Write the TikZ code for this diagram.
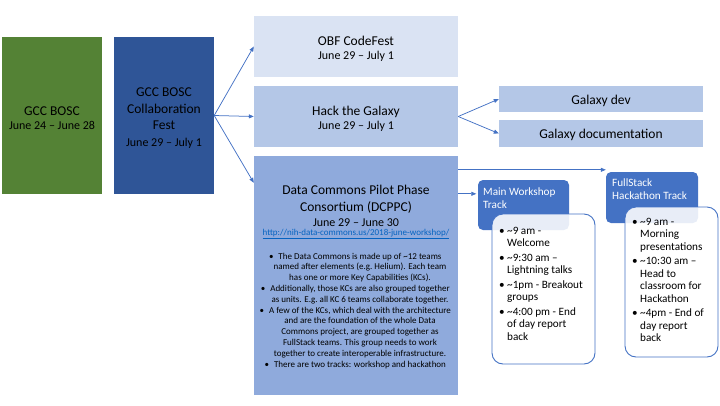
\documentclass[tikz,border=0pt]{standalone}
\usepackage{fontspec}
\setmainfont{Carlito}
\usetikzlibrary{arrows.meta,calc}
\definecolor{cgreen}{HTML}{548235}
\definecolor{cdark}{HTML}{2F5597}
\definecolor{cpale}{HTML}{DAE3F3}
\definecolor{clight}{HTML}{B4C7E7}
\definecolor{cmid}{HTML}{8FAADC}
\definecolor{cacc}{HTML}{4472C4}
\definecolor{clink}{HTML}{0563C1}
\newcommand{\bul}{\llap{\textbullet\hspace{2.5pt}}}
\newcommand{\dbul}{\llap{\textbullet\hspace{5pt}}}
\tikzset{
  box/.style={rectangle, inner sep=0pt, align=center, text=black},
  arr/.style={draw=cacc, line width=0.75pt, -{Triangle[length=5pt,width=4pt]}},
  hdr/.style={rectangle, rounded corners=5pt, fill=cacc, inner sep=0pt},
  body/.style={rectangle, rounded corners=11pt, draw=cacc, line width=0.9pt, fill=white, fill opacity=0.88, text opacity=1, inner sep=0pt},
  hdrtext/.style={anchor=north west, inner sep=0pt, align=left, text=white, font=\fontsize{11.2}{12.5}\selectfont},
  listtext/.style={anchor=north west, inner sep=0pt, align=left, text=black, font=\fontsize{11.2}{12.3}\selectfont},
}
\begin{document}
\begin{tikzpicture}[x=1pt,y=-1pt]
\useasboundingbox (0,0) rectangle (720,405);

% left boxes
\node[box, fill=cgreen, minimum width=100pt, minimum height=157pt] (gcc) at (52,115.5) {};
\node[box, font=\fontsize{13.5}{14}\selectfont] (gcctxt) at ($(gcc)+(0,2.5)$)
  {GCC BOSC\\{\fontsize{12}{14}\selectfont June 24 – June 28}};
\node[box, fill=cdark, minimum width=100pt, minimum height=157pt] (collab) at (164,115.5) {};
\node[box, font=\fontsize{13.5}{16.5}\selectfont] (collabtxt) at ($(collab)+(0,2.5)$)
  {GCC BOSC\\Collaboration\\Fest\\{\fontsize{12}{15}\selectfont June 29 – July 1}};

% middle column
\node[box, fill=cpale, minimum width=204pt, minimum height=61pt] (obf) at (356,46.5) {};
\node[box, font=\fontsize{13.5}{14.5}\selectfont] (obftxt) at ($(obf)+(0,2.5)$)
  {OBF CodeFest\\{\fontsize{12}{14.5}\selectfont June 29 – July 1}};
\node[box, fill=clight, minimum width=204pt, minimum height=61pt] (hack) at (356,116.5) {};
\node[box, font=\fontsize{13.5}{14.5}\selectfont] (hacktxt) at ($(hack)+(0,2.5)$)
  {Hack the Galaxy\\{\fontsize{12}{14.5}\selectfont June 29 – July 1}};
\node[box, fill=cmid, minimum width=204pt, minimum height=239pt] (dcppc) at (356,275.5) {};

\node[box, anchor=north, font=\fontsize{13.5}{17}\selectfont] (dtitle) at (356,182)
  {\strut Data Commons Pilot Phase\\Consortium (DCPPC)};
\node[box, font=\fontsize{12}{14}\selectfont] (ddate) at (356,223) {June 29 – June 30};
\node[box, font=\fontsize{9}{11}\selectfont, text=clink] (dlink) at (356,234)
  {\underline{http://nih-data-commons.us/2018-june-workshop/}};
\node[box, anchor=north, font=\fontsize{9}{10.8}\selectfont] (dlist) at (360,251.4)
  {\strut\dbul The Data Commons is made up of \textasciitilde12 teams\\
   named after elements (e.g.\ Helium). Each team\\
   has one or more Key Capabilities (KCs).\\
   \dbul Additionally, those KCs are also grouped together\\
   as units. E.g.\ all KC 6 teams collaborate together.\\
   \dbul A few of the KCs, which deal with the architecture\\
   and are the foundation of the whole Data\\
   Commons project, are grouped together as\\
   FullStack teams. This group needs to work\\
   together to create interoperable infrastructure.\\
   \dbul There are two tracks: workshop and hackathon};

% galaxy sub boxes
\node[box, fill=clight, minimum width=204pt, minimum height=26pt] (gdev) at (601,99) {};
\node[box, font=\fontsize{13.5}{15}\selectfont] (gdevtxt) at ($(gdev)+(0,2)$) {Galaxy dev};
\node[box, fill=clight, minimum width=204pt, minimum height=27pt] (gdoc) at (601,133.5) {};
\node[box, font=\fontsize{13.5}{15}\selectfont] (gdoctxt) at ($(gdoc)+(0,1.5)$) {Galaxy documentation};

% tracks
\node[hdr, minimum width=91pt, minimum height=50pt] (mainhdr) at (523.5,205) {};
\node[hdrtext] (maintxt) at (483,186.6) {\strut Main Workshop\\Track};
\node[body, minimum width=103pt, minimum height=150pt] (mainbody) at (543.5,289) {};
\node[listtext] (mainlist) at (507,225.5)
  {\strut\bul\textasciitilde9 am -\\Welcome\\[2.5pt]
   \bul\textasciitilde9:30 am –\\Lightning talks\\[2.5pt]
   \bul\textasciitilde1pm - Breakout\\groups\\[2.5pt]
   \bul\textasciitilde4:00 pm - End\\of day report\\back};

\node[hdr, minimum width=92pt, minimum height=51pt] (fshdr) at (652,197.5) {};
\node[hdrtext, font=\fontsize{11.2}{13}\selectfont] (fstxt) at (612,177.6) {\strut FullStack\\Hackathon Track};
\node[body, minimum width=93pt, minimum height=150pt] (fsbody) at (671.5,282) {};
\node[listtext, font=\fontsize{11.2}{12.6}\selectfont] (fslist) at (640,216.3)
  {\strut\bul\textasciitilde9 am -\\Morning\\presentations\\[1.5pt]
   \bul\textasciitilde10:30 am –\\Head to\\classroom for\\Hackathon\\[1.5pt]
   \bul\textasciitilde4pm - End of\\day report\\back};

% connectors
\coordinate (c3) at ($(dcppc.north west)+(0,27)$);
\draw[arr] (collab.east) -- (obf.west);
\draw[arr] (collab.east) -- (hack.west);
\draw[arr] (collab.east) -- (c3);
\draw[arr] (hack.east) -- (gdev.west);
\draw[arr] (hack.east) -- (gdoc.west);
\coordinate (a1) at ($(dcppc.north east)+(0,14)$);
\coordinate (a2) at ($(dcppc.north east)+(0,38)$);
\draw[arr] (a1) -- (a1 -| fshdr.west);
\draw[arr, shorten >=1.5pt] (a2) -- (a2 -| mainhdr.west);
\end{tikzpicture}
\end{document}
